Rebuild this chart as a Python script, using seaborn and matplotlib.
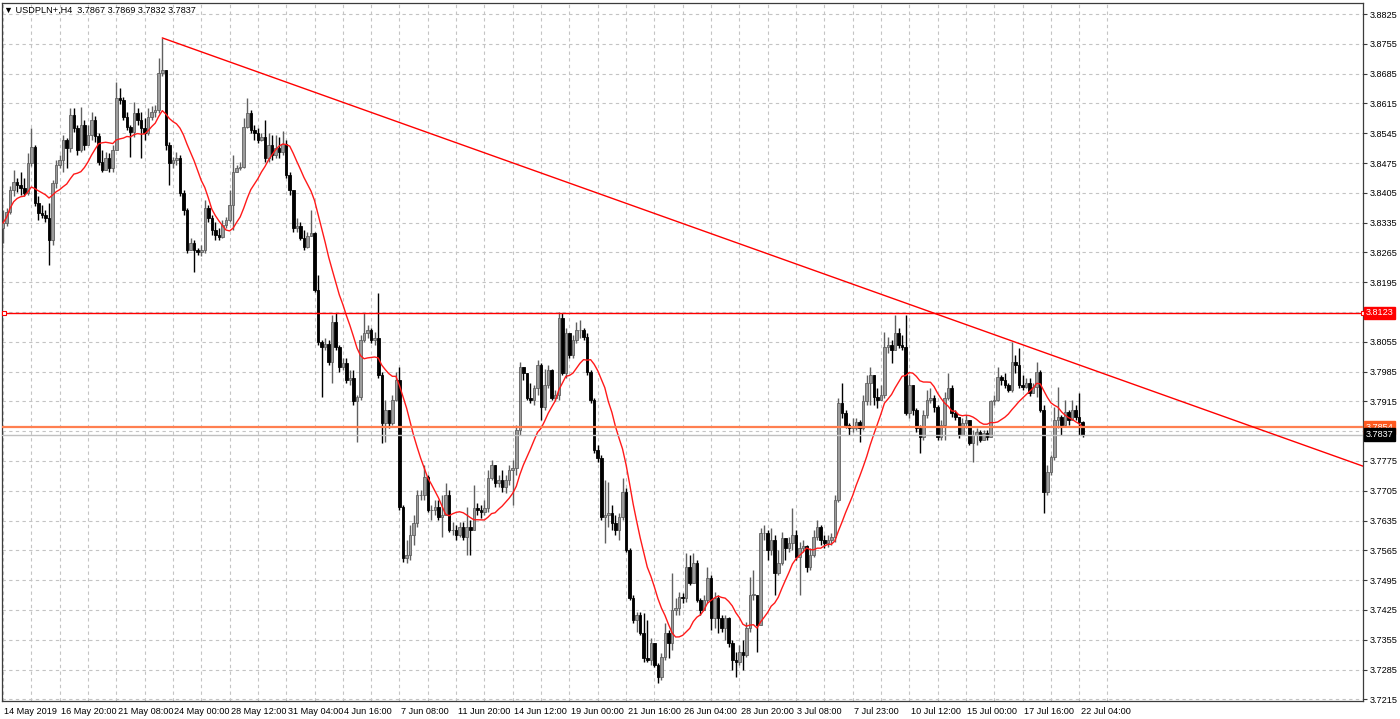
import numpy as np
import pandas as pd
import matplotlib
matplotlib.use("Agg")
import matplotlib.pyplot as plt
import matplotlib.transforms as mtransforms
import seaborn as sns

# header line of the terminal window
header = "\u25bc USDPLN+,H4  3.7867 3.7869 3.7832 3.7837"

# H4 candles (open = previous close)
first_open = 3.8322
close = [
    3.8334, 3.8360, 3.8412, 3.8430, 3.8423, 3.8416, 3.8405, 3.8475, 3.8513, 3.8381,
    3.8358, 3.8353, 3.8346, 3.8294, 3.8428, 3.8470, 3.8482, 3.8529, 3.8510, 3.8588,
    3.8557, 3.8506, 3.8564, 3.8517, 3.8541, 3.8576, 3.8539, 3.8478, 3.8459, 3.8487,
    3.8463, 3.8506, 3.8628, 3.8623, 3.8583, 3.8560, 3.8548, 3.8593, 3.8576, 3.8557,
    3.8546, 3.8583, 3.8595, 3.8600, 3.8687, 3.8694, 3.8517, 3.8475, 3.8482, 3.8487,
    3.8405, 3.8365, 3.8271, 3.8287, 3.8271, 3.8266, 3.8271, 3.8369, 3.8346, 3.8318,
    3.8306, 3.8301, 3.8329, 3.8341, 3.8376, 3.8454, 3.8463, 3.8466, 3.8560, 3.8593,
    3.8553, 3.8546, 3.8529, 3.8536, 3.8487, 3.8517, 3.8494, 3.8510, 3.8501, 3.8520,
    3.8447, 3.8412, 3.8322, 3.8327, 3.8299, 3.8278, 3.8304, 3.8311, 3.8177, 3.8055,
    3.8043, 3.8050, 3.8008, 3.8102, 3.8043, 3.7996, 3.8005, 3.7965, 3.7970, 3.7915,
    3.7925, 3.8059, 3.8076, 3.8083, 3.8059, 3.8064, 3.7977, 3.7864, 3.7895, 3.7864,
    3.7918, 3.7965, 3.7667, 3.7547, 3.7554, 3.7601, 3.7629, 3.7695, 3.7695, 3.7738,
    3.7660, 3.7660, 3.7667, 3.7644, 3.7648, 3.7695, 3.7613, 3.7613, 3.7601, 3.7620,
    3.7597, 3.7620, 3.7613, 3.7665, 3.7660, 3.7655, 3.7665, 3.7735, 3.7766, 3.7723,
    3.7730,
    3.7714, 3.7730, 3.7754, 3.7759, 3.7848, 3.7996, 3.7982, 3.7923, 3.7918, 3.7947,
    3.8001, 3.7902, 3.7954, 3.7989, 3.7923, 3.7930, 3.8111, 3.7982, 3.8076, 3.8024,
    3.8059, 3.8083, 3.8083, 3.8066, 3.7984, 3.7918, 3.7801, 3.7782, 3.7644, 3.7648,
    3.7653, 3.7629, 3.7613, 3.7644, 3.7702, 3.7566, 3.7453, 3.7402, 3.7413, 3.7371,
    3.7312, 3.7308, 3.7348, 3.7296, 3.7268, 3.7315, 3.7371, 3.7348, 3.7425, 3.7430,
    3.7456, 3.7453, 3.7526, 3.7489,
    3.7536, 3.7449, 3.7425, 3.7449, 3.7500, 3.7406, 3.7453, 3.7406, 3.7383, 3.7406,
    3.7348, 3.7308, 3.7303, 3.7326, 3.7319, 3.7383, 3.7461, 3.7461, 3.7390, 3.7606,
    3.7606, 3.7566, 3.7590, 3.7512, 3.7536, 3.7594, 3.7571, 3.7583, 3.7601, 3.7550,
    3.7571, 3.7576, 3.7526, 3.7554, 3.7597, 3.7620, 3.7590, 3.7583, 3.7590, 3.7597,
    3.7683, 3.7911, 3.7888, 3.7860, 3.7853, 3.7853, 3.7867, 3.7853, 3.7915, 3.7958,
    3.7977, 3.7925, 3.7918,
    3.7930, 3.8043, 3.8048, 3.8036, 3.8076, 3.8048, 3.8043, 3.7888, 3.7954, 3.7895,
    3.7853, 3.7831, 3.7883, 3.7918, 3.7923, 3.7902, 3.7831, 3.7860, 3.7923, 3.7947,
    3.7888, 3.7878, 3.7836, 3.7864, 3.7871, 3.7817, 3.7836, 3.7843, 3.7824, 3.7841,
    3.7831, 3.7915, 3.7918, 3.7972, 3.7965, 3.7954, 3.7942, 3.8008, 3.8001, 3.7954,
    3.7949, 3.7958, 3.7935, 3.7949, 3.7984, 3.7895, 3.7702, 3.7749, 3.7784, 3.7871,
    3.7878, 3.7860, 3.7890, 3.7871, 3.7895, 3.7878, 3.7867, 3.7837,
]
high = [
    3.8365, 3.8369, 3.8421, 3.8459, 3.8440, 3.8454, 3.8440, 3.8499, 3.8557, 3.8517,
    3.8398, 3.8376, 3.8365, 3.8381, 3.8435, 3.8482, 3.8494, 3.8541, 3.8534, 3.8604,
    3.8604, 3.8564, 3.8607, 3.8576, 3.8564, 3.8595, 3.8585, 3.8546, 3.8506, 3.8501,
    3.8499, 3.8517, 3.8665, 3.8651, 3.8630, 3.8595, 3.8564, 3.8618, 3.8604, 3.8595,
    3.8581, 3.8604, 3.8609, 3.8611, 3.8722, 3.8769, 3.8694, 3.8524, 3.8489, 3.8501,
    3.8494, 3.8412, 3.8369, 3.8299, 3.8294, 3.8275, 3.8282, 3.8388, 3.8376, 3.8353,
    3.8337, 3.8322, 3.8341, 3.8348, 3.8412, 3.8494, 3.8470, 3.8478, 3.8581, 3.8628,
    3.8600, 3.8564, 3.8557, 3.8546, 3.8576, 3.8546, 3.8541, 3.8541, 3.8536, 3.8550,
    3.8529, 3.8454, 3.8412, 3.8346, 3.8337, 3.8318, 3.8313, 3.8365, 3.8313, 3.8212,
    3.8059, 3.8064, 3.8059, 3.8118, 3.8123, 3.8048, 3.8017, 3.8017, 3.7989, 3.7989,
    3.7930, 3.8071, 3.8123, 3.8095, 3.8088, 3.8078, 3.8170, 3.7984, 3.7918, 3.7883,
    3.7930, 3.7984, 3.7996, 3.7672, 3.7590, 3.7625, 3.7648, 3.7707, 3.7707, 3.7766,
    3.7742, 3.7672, 3.7683, 3.7683, 3.7695, 3.7723, 3.7707, 3.7632, 3.7625, 3.7632,
    3.7632, 3.7667, 3.7636, 3.7719, 3.7676, 3.7672, 3.7683, 3.7754, 3.7777, 3.7766,
    3.7742,
    3.7754, 3.7742, 3.7766, 3.7777, 3.7860, 3.8008, 3.7994, 3.7970, 3.7958, 3.7954,
    3.8012, 3.8005, 3.7991, 3.8001, 3.7991, 3.7942, 3.8125, 3.8123, 3.8088, 3.8076,
    3.8071, 3.8102, 3.8106, 3.8088, 3.8076, 3.7989, 3.7923, 3.7813, 3.7789, 3.7730,
    3.7726, 3.7672, 3.7648, 3.7653, 3.7735, 3.7712, 3.7571, 3.7461, 3.7420, 3.7420,
    3.7418, 3.7402, 3.7359, 3.7348, 3.7301, 3.7324, 3.7395, 3.7378, 3.7512, 3.7453,
    3.7468, 3.7465, 3.7559, 3.7554,
    3.7559, 3.7543, 3.7453, 3.7461, 3.7526, 3.7508, 3.7468, 3.7461, 3.7413, 3.7413,
    3.7409, 3.7355, 3.7326, 3.7343, 3.7355, 3.7397, 3.7503, 3.7519, 3.7461, 3.7618,
    3.7625, 3.7613, 3.7618, 3.7601, 3.7566, 3.7608, 3.7590, 3.7597, 3.7665, 3.7613,
    3.7585, 3.7590, 3.7578, 3.7571, 3.7613, 3.7636, 3.7625, 3.7601, 3.7601, 3.7606,
    3.7695, 3.7923, 3.7958, 3.7895, 3.7864, 3.7876, 3.7876, 3.7871, 3.7930, 3.7977,
    3.7996, 3.7977, 3.7947,
    3.7954, 3.8078, 3.8066, 3.8059, 3.8118, 3.8088, 3.8071, 3.8118, 3.7977, 3.7907,
    3.7900, 3.7860, 3.7895, 3.7942, 3.7947, 3.7930, 3.7907, 3.7871, 3.7937, 3.7982,
    3.7954, 3.7895, 3.7871, 3.7876, 3.7883, 3.7871, 3.7848, 3.7853, 3.7848, 3.7848,
    3.7848, 3.7918, 3.7930, 3.7996, 3.7977, 3.7982, 3.7958, 3.8055, 3.8024, 3.8041,
    3.7977, 3.7970, 3.7970, 3.7958, 3.8008, 3.7989, 3.7907, 3.7766, 3.7789, 3.7902,
    3.7949, 3.7883, 3.7918, 3.7895, 3.7918, 3.7907, 3.7935, 3.7869,
]
low = [
    3.8287, 3.8327, 3.8355, 3.8398, 3.8407, 3.8400, 3.8398, 3.8400, 3.8468, 3.8374,
    3.8341, 3.8346, 3.8337, 3.8236, 3.8282, 3.8416, 3.8463, 3.8454, 3.8463, 3.8501,
    3.8548, 3.8494, 3.8501, 3.8506, 3.8517, 3.8529, 3.8524, 3.8470, 3.8454, 3.8459,
    3.8454, 3.8454, 3.8506, 3.8614, 3.8576, 3.8553, 3.8489, 3.8536, 3.8564, 3.8487,
    3.8529, 3.8541, 3.8576, 3.8583, 3.8593, 3.8679, 3.8506, 3.8423, 3.8463, 3.8470,
    3.8398, 3.8353, 3.8264, 3.8271, 3.8219, 3.8259, 3.8257, 3.8264, 3.8337, 3.8306,
    3.8294, 3.8294, 3.8299, 3.8322, 3.8337, 3.8318, 3.8454, 3.8459, 3.8463, 3.8557,
    3.8546, 3.8529, 3.8522, 3.8527, 3.8478, 3.8478, 3.8482, 3.8487, 3.8487, 3.8494,
    3.8440, 3.8400, 3.8313, 3.8313, 3.8294, 3.8271, 3.8275, 3.8304, 3.8172, 3.8048,
    3.7925, 3.8036, 3.8001, 3.7958, 3.8036, 3.7984, 3.7989, 3.7958, 3.7954, 3.7907,
    3.7820, 3.7918, 3.8055, 3.8064, 3.8052, 3.8048, 3.7970, 3.7817, 3.7820, 3.7853,
    3.7860, 3.7915, 3.7660, 3.7538, 3.7536, 3.7543, 3.7578, 3.7620, 3.7683, 3.7683,
    3.7655, 3.7636, 3.7648, 3.7636, 3.7597, 3.7660, 3.7608, 3.7601, 3.7590, 3.7597,
    3.7590, 3.7554, 3.7554, 3.7613, 3.7648, 3.7641, 3.7648, 3.7655, 3.7730, 3.7714,
    3.7714,
    3.7702, 3.7700, 3.7719, 3.7672, 3.7742, 3.7836, 3.7965, 3.7918, 3.7911, 3.7907,
    3.7930, 3.7871, 3.7895, 3.7947, 3.7918, 3.7915, 3.7918, 3.7977, 3.7970, 3.8017,
    3.8017, 3.8052, 3.8064, 3.8059, 3.7977, 3.7911, 3.7794, 3.7773, 3.7636, 3.7583,
    3.7620, 3.7613, 3.7601, 3.7590, 3.7636, 3.7561, 3.7449, 3.7395, 3.7373, 3.7366,
    3.7303, 3.7303, 3.7296, 3.7291, 3.7254, 3.7261, 3.7308, 3.7312, 3.7331, 3.7413,
    3.7413, 3.7442, 3.7444, 3.7484,
    3.7519, 3.7444, 3.7413, 3.7437, 3.7442, 3.7378, 3.7383, 3.7371, 3.7373, 3.7355,
    3.7338, 3.7284, 3.7268, 3.7296, 3.7284, 3.7315, 3.7373, 3.7449, 3.7326, 3.7390,
    3.7590, 3.7543, 3.7554, 3.7461, 3.7508, 3.7531, 3.7543, 3.7561, 3.7566, 3.7543,
    3.7461, 3.7561, 3.7515, 3.7519, 3.7550, 3.7590, 3.7578, 3.7571, 3.7573, 3.7578,
    3.7585, 3.7679, 3.7876, 3.7853, 3.7836, 3.7843, 3.7848, 3.7820, 3.7848, 3.7907,
    3.7907, 3.7907, 3.7900,
    3.7923, 3.7923, 3.8029, 3.8005, 3.8041, 3.8041, 3.8036, 3.7883, 3.7876, 3.7883,
    3.7843, 3.7794, 3.7824, 3.7876, 3.7911, 3.7890, 3.7824, 3.7824, 3.7824, 3.7918,
    3.7878, 3.7871, 3.7829, 3.7853, 3.7853, 3.7813, 3.7773, 3.7813, 3.7820, 3.7824,
    3.7824, 3.7831, 3.7907, 3.7915, 3.7954, 3.7947, 3.7937, 3.7937, 3.7982, 3.7947,
    3.7942, 3.7947, 3.7928, 3.7935, 3.7925, 3.7890, 3.7653, 3.7695, 3.7742, 3.7777,
    3.7853, 3.7836, 3.7860, 3.7860, 3.7871, 3.7871, 3.7836, 3.7832,
]

date_labels = ["14 May 2019", "16 May 20:00", "21 May 08:00", "24 May 00:00",
               "28 May 12:00", "31 May 04:00", "4 Jun 16:00", "7 Jun 08:00",
               "11 Jun 20:00", "14 Jun 12:00", "19 Jun 00:00", "21 Jun 16:00",
               "26 Jun 04:00", "28 Jun 20:00", "3 Jul 08:00", "7 Jul 23:00",
               "10 Jul 12:00", "15 Jul 00:00", "17 Jul 16:00", "22 Jul 04:00"]
bars_per_label = 16

price_ticks = [3.7215, 3.7285, 3.7355, 3.7425, 3.7495, 3.7565, 3.7635, 3.7705,
               3.7775, 3.7845, 3.7915, 3.7985, 3.8055, 3.8125, 3.8195, 3.8265,
               3.8335, 3.8405, 3.8475, 3.8545, 3.8615, 3.8685, 3.8755, 3.8825]
hidden_ticks = [3.7845, 3.8125]   # covered by the price tags

level_red = 3.8123
level_orange = 3.7854
bid_price = 3.7837
trend_idx = [45, 285]
trend_price = [3.8769, 3.8057]
ma_period = 14

# ------------------------------------------------------------------
df = pd.DataFrame({"close": close, "high": high, "low": low})
df["open"] = [first_open] + close[:-1]
df["high"] = df[["high", "open", "close"]].max(axis=1)
df["low"] = df[["low", "open", "close"]].min(axis=1)
df["idx"] = np.arange(len(df))
df["ma"] = df["close"].rolling(ma_period, min_periods=1).mean()
bull = df["close"] >= df["open"]

sns.set_theme(style="white")
plt.rcParams["font.family"] = ["Liberation Sans", "DejaVu Sans"]
FS = 6.6

W, H = 1400, 719
fig = plt.figure(figsize=(W / 100, H / 100), dpi=100)
ax = fig.add_axes([2 / W, 18 / H, 1361 / W, 698 / H])

bar_px = 3.54
x_left = -1 / bar_px
x_right = x_left + 1361 / bar_px
ax.set_xlim(x_left, x_right)
ax.set_ylim(3.7211, 3.8851)

# grid
ax.set_axisbelow(True)
ax.grid(True, which="both", color="#c4c4c4", linestyle=(0, (3, 3)), linewidth=0.8)

# candles: wicks then bodies
up_col, up_edge = "#9c9c9c", "#606060"
ax.vlines(df.idx[bull], df.low[bull], df.high[bull], color=up_edge, linewidth=1.0, zorder=2)
ax.vlines(df.idx[~bull], df.low[~bull], df.high[~bull], color="black", linewidth=1.0, zorder=2)
body_lo = df[["open", "close"]].min(axis=1)
body_h = (df["close"] - df["open"]).abs().clip(lower=0.00008)
ax.bar(df.idx[bull], body_h[bull], bottom=body_lo[bull], width=0.72,
       color=up_col, edgecolor=up_edge, linewidth=0.6, zorder=3)
ax.bar(df.idx[~bull], body_h[~bull], bottom=body_lo[~bull], width=0.72,
       color="black", edgecolor="black", linewidth=0.6, zorder=3)

# moving average
sns.lineplot(x=df.idx, y=df.ma, color="#ff1a1a", linewidth=1.0, ax=ax, zorder=4)

# horizontal levels
ax.axhline(level_red, color="#ff0000", linewidth=1.0, zorder=4)
ax.plot([x_left + 0.6, x_right], [level_red, level_red], linestyle="none", marker="s",
        markersize=3.5, markerfacecolor="white", markeredgecolor="red",
        markeredgewidth=0.8, clip_on=False, zorder=6)
ax.axhline(bid_price, color="#c0c0c0", linewidth=1.0, zorder=4)
ax.axhline(level_orange, color="#ff7f50", linewidth=1.6, zorder=4)

# trend line (ray to the right edge)
slope = (trend_price[1] - trend_price[0]) / (trend_idx[1] - trend_idx[0])
ax.plot([trend_idx[0], x_right], [trend_price[0], trend_price[0] + slope * (x_right - trend_idx[0])],
        color="#ff0000", linewidth=1.0, zorder=5)

# axes styling
for sp in ax.spines.values():
    sp.set_color("#3c3c3c")
    sp.set_linewidth(0.9)

ax.yaxis.tick_right()
ax.set_yticks(price_ticks)
ax.set_yticklabels(["" if p in hidden_ticks else f"{p:.4f}" for p in price_ticks])
ax.tick_params(axis="y", which="major", direction="out", length=3, width=0.8,
               color="#3c3c3c", labelsize=FS, pad=2, labelcolor="black")

xt = np.arange(len(date_labels)) * bars_per_label
ax.set_xticks(xt)
ax.set_xticklabels(date_labels, ha="left")
ax.set_xticks(xt + bars_per_label / 2, minor=True)
ax.tick_params(axis="x", which="major", direction="out", length=4, width=0.8,
               color="#3c3c3c", labelsize=FS, pad=0, labelcolor="black")
ax.tick_params(axis="x", which="minor", direction="out", length=2, width=0.6, color="#3c3c3c")
offset = mtransforms.ScaledTranslation(1.5 / 100, 0, fig.dpi_scale_trans)
for lab in ax.get_xticklabels():
    lab.set_transform(lab.get_transform() + offset)
ax.set_xlabel("")
ax.set_ylabel("")

# price tags on the right scale
tag_tr = mtransforms.blended_transform_factory(ax.transAxes, ax.transData)
for val, fc, tc in [(level_red, "#ff0000", "white"), (level_orange, "#ff5a1f", "white"),
                    (bid_price, "black", "white")]:
    ax.text(1.0018, val, f"{val:.4f}", transform=tag_tr, fontsize=FS, color=tc,
            va="center", ha="left", zorder=7, clip_on=False,
            bbox=dict(boxstyle="square,pad=0.2", fc=fc, ec=fc))

fig.text(4 / W, 1 - 10 / H, header, fontsize=FS, color="black", va="center", ha="left")

fig.savefig("out.png", dpi=100)
